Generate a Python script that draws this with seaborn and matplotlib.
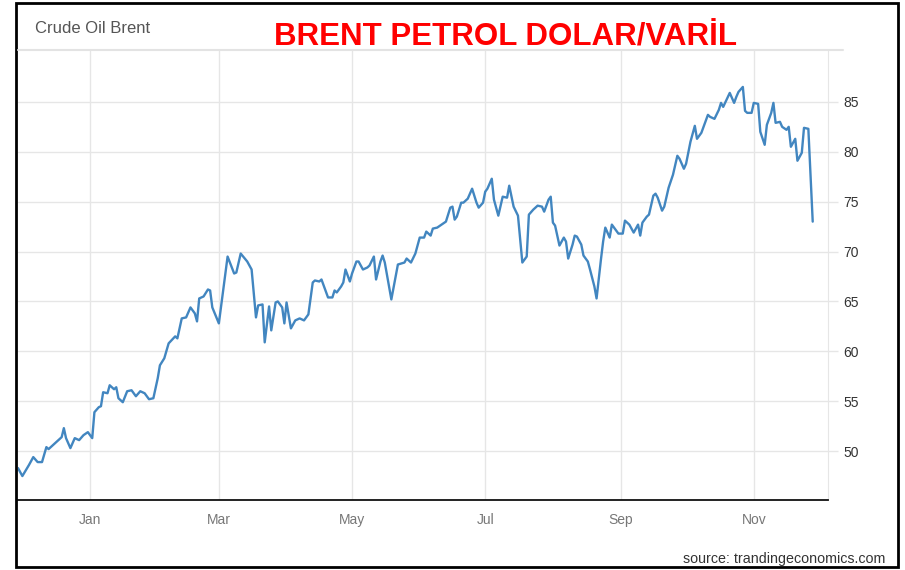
import matplotlib
matplotlib.use("Agg")
import matplotlib.pyplot as plt
import matplotlib.dates as mdates
from matplotlib.patches import Rectangle
from matplotlib.lines import Line2D
import seaborn as sns
import pandas as pd

# Brent crude, values (USD / barrel)
dates = [
    "2020-11-29", "2020-12-01", "2020-12-04", "2020-12-06", "2020-12-08", "2020-12-10",
    "2020-12-12", "2020-12-13", "2020-12-16", "2020-12-19", "2020-12-20", "2020-12-21",
    "2020-12-23", "2020-12-25", "2020-12-27", "2020-12-29", "2020-12-31",
    "2021-01-02", "2021-01-03", "2021-01-05", "2021-01-06", "2021-01-07", "2021-01-09",
    "2021-01-10", "2021-01-12", "2021-01-13", "2021-01-14", "2021-01-16", "2021-01-18",
    "2021-01-20", "2021-01-22", "2021-01-24", "2021-01-26", "2021-01-28", "2021-01-30",
    "2021-02-01", "2021-02-02", "2021-02-04", "2021-02-06", "2021-02-09", "2021-02-10",
    "2021-02-12", "2021-02-14", "2021-02-16", "2021-02-18", "2021-02-19", "2021-02-20",
    "2021-02-22", "2021-02-24", "2021-02-25", "2021-02-26",
    "2021-03-01", "2021-03-05", "2021-03-08", "2021-03-09", "2021-03-11", "2021-03-14",
    "2021-03-16", "2021-03-18", "2021-03-19", "2021-03-21", "2021-03-22", "2021-03-24",
    "2021-03-25", "2021-03-27", "2021-03-28", "2021-03-30", "2021-03-31",
    "2021-04-01", "2021-04-03", "2021-04-05", "2021-04-07", "2021-04-09", "2021-04-11",
    "2021-04-13", "2021-04-14", "2021-04-16", "2021-04-17", "2021-04-18", "2021-04-20",
    "2021-04-22", "2021-04-23", "2021-04-24", "2021-04-26", "2021-04-27", "2021-04-28",
    "2021-04-30",
    "2021-05-01", "2021-05-03", "2021-05-04", "2021-05-06", "2021-05-08", "2021-05-09",
    "2021-05-11", "2021-05-12", "2021-05-14", "2021-05-15", "2021-05-16", "2021-05-19",
    "2021-05-22", "2021-05-25", "2021-05-26", "2021-05-28", "2021-05-30",
    "2021-06-01", "2021-06-03", "2021-06-04", "2021-06-06", "2021-06-07", "2021-06-09",
    "2021-06-11", "2021-06-13", "2021-06-15", "2021-06-16", "2021-06-17", "2021-06-18",
    "2021-06-20", "2021-06-21", "2021-06-23", "2021-06-25", "2021-06-27", "2021-06-28",
    "2021-06-30",
    "2021-07-01", "2021-07-02", "2021-07-04", "2021-07-05", "2021-07-07", "2021-07-09",
    "2021-07-11", "2021-07-12", "2021-07-14", "2021-07-16", "2021-07-18", "2021-07-20",
    "2021-07-21", "2021-07-23", "2021-07-25", "2021-07-27", "2021-07-28", "2021-07-30",
    "2021-07-31",
    "2021-08-01", "2021-08-02", "2021-08-04", "2021-08-06", "2021-08-07", "2021-08-08",
    "2021-08-10", "2021-08-11", "2021-08-12", "2021-08-14", "2021-08-15", "2021-08-17",
    "2021-08-18", "2021-08-20", "2021-08-21", "2021-08-23", "2021-08-24", "2021-08-25",
    "2021-08-27", "2021-08-28", "2021-08-29", "2021-08-31",
    "2021-09-02", "2021-09-03", "2021-09-05", "2021-09-07", "2021-09-09", "2021-09-10",
    "2021-09-11", "2021-09-13", "2021-09-14", "2021-09-16", "2021-09-17", "2021-09-18",
    "2021-09-20", "2021-09-21", "2021-09-23", "2021-09-25", "2021-09-27", "2021-09-28",
    "2021-09-30",
    "2021-10-01", "2021-10-03", "2021-10-05", "2021-10-06", "2021-10-08", "2021-10-09",
    "2021-10-11", "2021-10-12", "2021-10-14", "2021-10-16", "2021-10-17", "2021-10-18",
    "2021-10-21", "2021-10-23", "2021-10-24", "2021-10-25", "2021-10-27", "2021-10-28",
    "2021-10-29", "2021-10-31",
    "2021-11-01", "2021-11-03", "2021-11-04", "2021-11-06", "2021-11-07", "2021-11-09",
    "2021-11-10", "2021-11-11", "2021-11-13", "2021-11-14", "2021-11-16", "2021-11-17",
    "2021-11-18", "2021-11-20", "2021-11-21", "2021-11-23", "2021-11-24", "2021-11-26",
    "2021-11-28",
]
prices = [
    48.3, 47.5, 48.6, 49.4, 48.9, 48.9,
    50.4, 50.2, 50.8, 51.4, 52.3, 51.3,
    50.3, 51.3, 51.1, 51.6, 51.9,
    51.3, 53.9, 54.4, 54.5, 55.9, 55.8,
    56.6, 56.2, 56.4, 55.3, 54.9, 56.0,
    56.1, 55.5, 56.0, 55.8, 55.2, 55.3,
    57.3, 58.6, 59.3, 60.8, 61.5, 61.3,
    63.3, 63.4, 64.4, 63.8, 63.0, 65.3,
    65.5, 66.2, 66.1, 64.4,
    62.8, 69.5, 67.8, 67.9, 69.8, 69.0,
    68.2, 63.4, 64.6, 64.7, 60.9, 64.5,
    62.1, 64.9, 65.0, 64.4, 62.8,
    64.9, 62.3, 63.1, 63.3, 63.1, 63.7,
    66.9, 67.1, 67.0, 67.2, 66.6, 65.4,
    65.4, 66.1, 65.9, 66.5, 66.9, 68.2,
    67.0,
    67.8, 69.0, 69.0, 68.2, 68.4, 68.6,
    69.5, 67.2, 69.0, 69.6, 68.9, 65.2,
    68.7, 68.9, 69.3, 68.9, 69.8,
    71.4, 71.4, 72.0, 71.6, 72.3, 72.4,
    72.7, 73.0, 74.4, 74.5, 73.2, 73.5,
    74.9, 74.9, 75.3, 76.3, 74.9, 74.4,
    74.9,
    76.0, 76.3, 77.3, 75.2, 73.6, 75.5,
    75.4, 76.6, 74.5, 73.6, 68.9, 69.5,
    73.7, 74.2, 74.6, 74.5, 74.0, 75.2,
    75.5,
    72.9, 72.6, 70.6, 71.4, 71.0, 69.3,
    70.7, 71.6, 71.5, 70.7, 69.6, 69.0,
    68.2, 66.5, 65.3, 69.2, 71.0, 72.4,
    71.4, 72.7, 72.4, 71.8,
    71.8, 73.1, 72.7, 71.9, 72.7, 71.6,
    72.9, 73.5, 73.7, 75.6, 75.8, 75.4,
    74.1, 74.5, 76.4, 77.7, 79.6, 79.3,
    78.3,
    78.8, 81.0, 82.6, 81.3, 81.9, 82.5,
    83.7, 83.5, 83.3, 84.2, 84.9, 84.5,
    85.9, 84.9, 85.5, 86.0, 86.5, 84.1,
    83.9, 83.9,
    84.9, 84.8, 82.0, 80.7, 82.7, 83.9,
    84.9, 82.9, 83.0, 82.5, 82.2, 82.5,
    80.5, 81.3, 79.1, 79.9, 82.4, 82.3,
    73.0,
]
y_ticks = [50, 55, 60, 65, 70, 75, 80, 85]

df = pd.DataFrame({"date": pd.to_datetime(dates), "price": prices})

sns.set_style("white")
plt.rcParams["font.family"] = ["Liberation Sans", "DejaVu Sans"]

fig = plt.figure(figsize=(9.05, 5.7), dpi=100)
ax = fig.add_axes([18 / 905, 1 - 500 / 570, (828 - 18) / 905, 450 / 570])

sns.lineplot(data=df, x="date", y="price", ax=ax, color="#4286c0", linewidth=1.7)

ax.set_xlim(pd.Timestamp("2020-11-29"), pd.Timestamp("2021-12-05"))
ax.set_ylim(45.1, 90.2)
ax.set_xlabel("")
ax.set_ylabel("")

ax.xaxis.set_major_locator(mdates.MonthLocator(bymonth=[1, 3, 5, 7, 9, 11]))
ax.xaxis.set_major_formatter(mdates.DateFormatter("%b"))
ax.set_yticks(y_ticks)
ax.yaxis.tick_right()

ax.grid(True, color="#e6e6e6", linewidth=1.0)
ax.tick_params(axis="x", length=0, pad=9.5, labelsize=10, labelcolor="#777777")
ax.tick_params(axis="y", length=7, width=1, color="#e6e6e6", pad=4,
               labelsize=10, labelcolor="#333333")

for side in ["left", "top"]:
    ax.spines[side].set_visible(False)
ax.spines["right"].set_color("#e6e6e6")
ax.spines["bottom"].set_color("#111111")
ax.spines["bottom"].set_linewidth(1.3)

# header bar line
fig.add_artist(Line2D([18 / 905, 843 / 905], [1 - 50 / 570, 1 - 50 / 570],
                      transform=fig.transFigure, color="#e3e3e3", linewidth=1.5))

fig.text(35 / 905, 1 - 33 / 570, "Crude Oil Brent", fontsize=12, color="#555555",
         ha="left", va="baseline")
fig.text(505.5 / 905, 1 - 46 / 570, "BRENT PETROL DOLAR/VARİL", fontsize=22.5,
         fontweight="bold", color="#ff0000", ha="center", va="baseline")
fig.text(885 / 905, 1 - 563 / 570, "source: trandingeconomics.com", fontsize=10.3,
         color="#333333", ha="right", va="baseline")

# outer frame
fig.add_artist(Rectangle((16 / 905, 1 - 567 / 570), (898 - 16) / 905, (567 - 3) / 570,
                         transform=fig.transFigure, fill=False, edgecolor="black",
                         linewidth=2))

fig.savefig("out.png", dpi=100)
